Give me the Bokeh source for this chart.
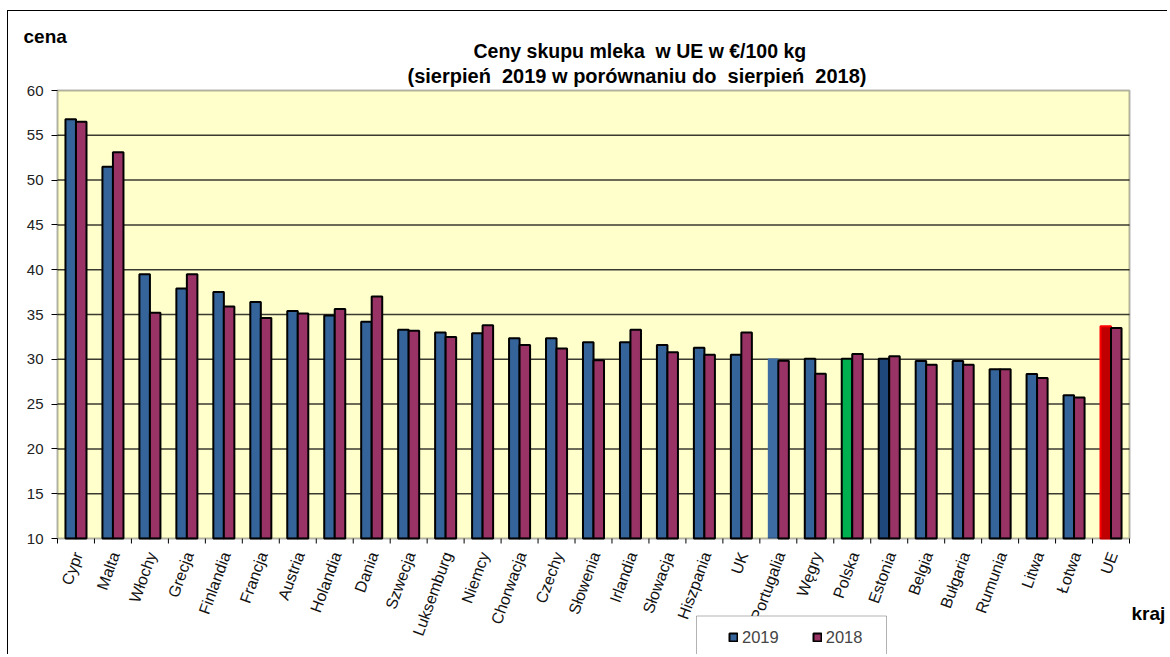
import math
from bokeh.plotting import figure
from bokeh.models import (ColumnDataSource, Range1d, FixedTicker, Label, Legend, LegendItem,
                          Title, BoxAnnotation)
from bokeh.core.properties import value
from bokeh.embed import file_html
from bokeh.resources import INLINE

# ---- data ----
countries = ["Cypr", "Malta", "Włochy", "Grecja", "Finlandia", "Francja", "Austria",
             "Holandia", "Dania", "Szwecja", "Luksemburg", "Niemcy", "Chorwacja", "Czechy",
             "Słowenia", "Irlandia", "Słowacja", "Hiszpania", "UK", "Portugalia", "Węgry",
             "Polska", "Estonia", "Belgia", "Bułgaria", "Rumunia", "Litwa", "Łotwa", "UE"]
v2019 = [56.8, 51.5, 39.5, 37.9, 37.5, 36.4, 35.4, 34.9, 34.2, 33.3, 33.0, 32.9, 32.35, 32.35,
         31.9, 31.9, 31.6, 31.3, 30.5, 30.1, 30.05, 30.05, 30.05, 29.8, 29.8, 28.9, 28.35, 26.0, 33.7]
v2018 = [56.5, 53.1, 35.2, 39.5, 35.9, 34.6, 35.1, 35.6, 37.0, 33.2, 32.5, 33.8, 31.6, 31.2,
         29.9, 33.3, 30.8, 30.5, 33.0, 29.85, 28.4, 30.6, 30.35, 29.4, 29.4, 28.9, 27.9, 25.75, 33.5]
series_names = ["2019", "2018"]
y_ticks = [10, 15, 20, 25, 30, 35, 40, 45, 50, 55, 60]
title1 = "Ceny skupu mleka\u00a0 w UE w €/100 kg"
title2 = "(sierpień\u00a0 2019 w porównaniu do\u00a0 sierpień\u00a0 2018)"

# ---- styles / layout ----
C2019 = "#35649A"
C2018 = "#993366"
special_fill = {"Portugalia": "#3D6CA3", "Polska": "#00B050", "Estonia": "#1F497D", "UE": "#C00000"}
special_line = {"UE": "#FF0000"}
special_line_alpha = {"Portugalia": 0.0}
FONT = "Liberation Sans"

W, H = 1160, 644
PAD = 2                       # room so the plot-area border is not clipped
LEFT, TOP = 49 - PAD, 79 - PAD
PLOT_W, PLOT_H = 1072, 448    # yellow plot area in px
n = len(countries)
ymin_v, ymax_v = y_ticks[0], y_ticks[-1]
cat_px = PLOT_W / n
unit_px = PLOT_H / (ymax_v - ymin_v)
x_lo = -0.5 - PAD / cat_px
x_hi = x_lo + (W - LEFT) / cat_px
y_hi = ymax_v + PAD / unit_px
y_lo = y_hi - (H - TOP) / unit_px

idx = list(range(n))
off = 0.142
bw = 0.285

src19 = ColumnDataSource(dict(
    x=[i - off for i in idx], top=v2019,
    fill=[special_fill.get(c, C2019) for c in countries],
    line=[special_line.get(c, "black") for c in countries],
    la=[special_line_alpha.get(c, 1.0) for c in countries],
))
src18 = ColumnDataSource(dict(x=[i + off for i in idx], top=v2018))
src_lab = ColumnDataSource(dict(x=idx, y=[ymin_v] * n, name=countries))
bounds = [i - 0.5 for i in range(n + 1)]
src_tk = ColumnDataSource(dict(x=bounds, y0=[ymin_v] * len(bounds),
                               y1=[ymin_v - 5 / unit_px] * len(bounds)))
grid_y = y_ticks[1:-1]
src_grid = ColumnDataSource(dict(y=grid_y, x0=[-0.5] * len(grid_y), x1=[n - 0.5] * len(grid_y)))

p = figure(width=W, height=H, x_range=Range1d(x_lo, x_hi), y_range=Range1d(y_lo, y_hi),
           output_backend="svg", toolbar_location=None, x_axis_location=None,
           min_border_left=LEFT, min_border_right=0, min_border_top=TOP, min_border_bottom=0)
p.styles = {"margin-left": "7px", "margin-top": "10px",
            "border-left": "1px solid black", "border-top": "1px solid black"}
p.background_fill_color = "white"
p.border_fill_color = "white"
p.outline_line_color = None
p.xgrid.visible = False
p.ygrid.visible = False

# yellow plot area + outline
p.add_layout(BoxAnnotation(left=-0.5, right=n - 0.5, bottom=ymin_v, top=ymax_v,
                           fill_color="#FFFFCC", fill_alpha=1, line_color=None, level="image"))
p.add_layout(BoxAnnotation(left=-0.5, right=n - 0.5, bottom=ymin_v, top=ymax_v,
                           fill_alpha=0, line_color="black", line_width=2, level="guide"))

# horizontal grid lines limited to the plot area
p.segment(x0="x0", y0="y", x1="x1", y1="y", source=src_grid,
          line_color="#3a3a30", line_width=1.5)

r19 = p.vbar(x="x", top="top", bottom=ymin_v, width=bw, source=src19,
             fill_color="fill", line_color="line", line_alpha="la", line_width=2)
r18 = p.vbar(x="x", top="top", bottom=ymin_v, width=bw, source=src18,
             fill_color=C2018, line_color="black", line_width=2)

# x ticks (between categories) and rotated labels
p.segment(x0="x", y0="y0", x1="x", y1="y1", source=src_tk, line_color="black", line_width=1)
p.text(x="x", y="y", text="name", source=src_lab, angle=math.radians(70),
       text_align="right", text_baseline="middle", x_offset=2, y_offset=14,
       text_font=value(FONT), text_font_size="16px", text_color="#111111")

# y axis
ya = p.yaxis[0]
ya.ticker = FixedTicker(ticks=y_ticks)
ya.axis_line_color = None
ya.major_tick_out = 4
ya.major_tick_in = 2
ya.major_tick_line_color = "black"
ya.major_tick_line_width = 1
ya.minor_tick_line_color = None
ya.major_label_standoff = 8
ya.major_label_text_font = FONT
ya.major_label_text_font_size = "15px"
ya.major_label_text_color = "#222222"

# titles (first added = nearest to the frame)
def title(text, offset, standoff, size):
    p.add_layout(Title(text=text, align="left", offset=offset, standoff=standoff,
                       text_font=FONT, text_font_size=size, text_font_style="bold",
                       text_color="black"), "above")

title(title2, 350 + PAD, 3, "20px")
title(title1, 416 + PAD, -1, "19.5px")
title("cena", -34 + PAD, -17, "19px")

# axis name for categories
p.add_layout(Label(x=1076, y=42, x_units="screen", y_units="screen", text="kraj",
                   text_font=FONT, text_font_size="19px", text_font_style="bold",
                   text_baseline="middle", text_color="black"))

# legend box + legend
p.add_layout(BoxAnnotation(left=641, right=831, top=39.5, bottom=-6,
                           left_units="screen", right_units="screen",
                           top_units="screen", bottom_units="screen",
                           fill_color="white", fill_alpha=1, line_color="black",
                           line_width=1, level="annotation"))
legend = Legend(items=[LegendItem(label=series_names[0], renderers=[r19], index=0),
                       LegendItem(label=series_names[1], renderers=[r18])],
                location=(673, 8), orientation="horizontal",
                padding=0, spacing=33, margin=0,
                glyph_width=10, glyph_height=10, label_standoff=4, label_height=20,
                label_text_font=FONT, label_text_font_size="16.5px",
                border_line_color=None, background_fill_alpha=0, level="overlay")
p.add_layout(legend)

open("out.html", "w").write(file_html(p, INLINE, "Ceny skupu mleka"))
